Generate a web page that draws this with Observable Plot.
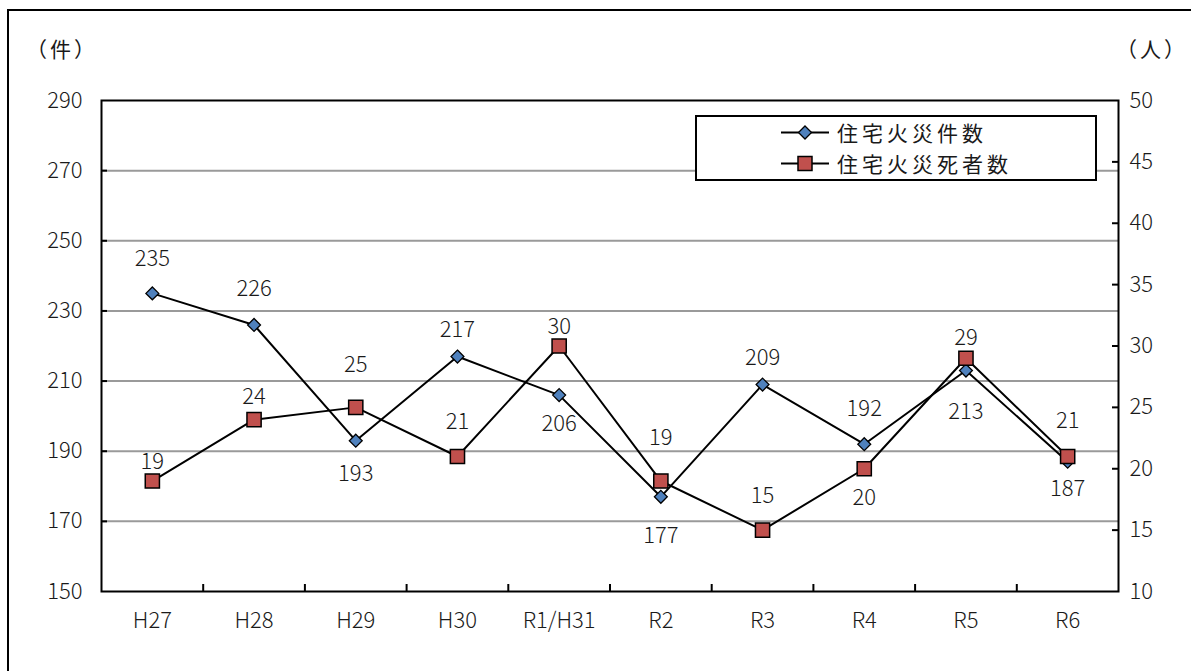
<!DOCTYPE html>
<html><head><meta charset="utf-8">
<script src="https://cdn.jsdelivr.net/npm/d3@7"></script>
<script src="https://cdn.jsdelivr.net/npm/@observablehq/plot@0.6"></script>
<style>
body{margin:0;background:#fff;}
#wrap{position:relative;width:1191px;height:671px;overflow:hidden;font-family:"Noto Sans CJK JP",sans-serif;color:#1a1a1a;}
#border{position:absolute;left:7px;top:9px;width:1300px;height:800px;border-top:2px solid #000;border-left:2px solid #000;}
#chart{position:absolute;left:0;top:0;}
.unit{position:absolute;top:36px;font-size:21px;line-height:24px;letter-spacing:3px;white-space:nowrap;}
#legend{position:absolute;left:695px;top:115px;width:398px;height:62px;border:2px solid #000;background:#fff;box-sizing:content-box;}
.row{position:relative;height:31px;white-space:nowrap;}
.row svg{position:absolute;left:84px;top:0;}
.row span{position:absolute;left:140px;top:0;display:inline-block;height:31px;line-height:31px;font-size:21px;letter-spacing:4px;}
</style></head>
<body>
<div id="wrap">
  <div id="border"></div>
  <div id="chart"></div>
  <div class="unit" style="left:26px">（件）</div>
  <div class="unit" style="left:1116px">（人）</div>
  <div id="legend"></div>
</div>
<script>
const years = ["H27","H28","H29","H30","R1/H31","R2","R3","R4","R5","R6"];
const fireCounts = [235,226,193,217,206,177,209,192,213,187];
const fireDeaths = [19,24,25,21,30,19,15,20,29,21];
const leftTicks = [150,170,190,210,230,250,270,290];
const rightTicks = [10,15,20,25,30,35,40,45,50];
const seriesNames = ["住宅火災件数","住宅火災死者数"];

const countColor = "#4F81BD", deathColor = "#C0504D";
const W = 1191, H = 671, mL = 101, mR = 73, mT = 100, mB = 80;
const plotW = W - mL - mR, plotH = H - mT - mB;
// secondary axis (人) 10..50 mapped onto primary (件) 150..290
const toLeft = v => 150 + (v - 10) * (140 / 40);
const toRight = v => Math.round(10 + (v - 150) * (40 / 140));

const data = years.map((y, i) => ({i, year: y, count: fireCounts[i], death: fireDeaths[i]}));

// label offsets (px) – manual placement as in the original
const countDy = [-34,-36,33,-27,29,39,-27,-35,41,27];
const deathDy = [-19,-23,-42,-35,-19,-43,-34,29,-20,-36];

const font = '"Noto Sans CJK JP", sans-serif';
const textCol = "#1a1a1a";

const marks = [
  Plot.ruleY(leftTicks.slice(1, -1), {stroke: "#9a9a9a", strokeWidth: 2}),
  Plot.frame({stroke: "#000", strokeWidth: 2}),
  Plot.tickY(leftTicks.slice(1, -1), {y: d => d, stroke: "#000", strokeWidth: 2, insetRight: plotW - 6}),
  Plot.tickY(rightTicks.slice(1, -1).map(toLeft), {y: d => d, stroke: "#000", strokeWidth: 2, insetLeft: plotW - 6}),
  Plot.tickX(d3.range(1, years.length).map(k => k - 0.5), {x: d => d, stroke: "#000", strokeWidth: 2, insetTop: plotH - 7}),
  Plot.axisY({ticks: leftTicks, tickSize: 0, tickPadding: 19, label: null, fill: textCol}),
  Plot.axisY({anchor: "right", ticks: rightTicks.map(toLeft), tickFormat: toRight, tickSize: 0, tickPadding: 11, label: null, fill: textCol}),
  Plot.axisX({ticks: d3.range(years.length), tickFormat: i => years[i], tickSize: 0, tickPadding: 21, label: null, fill: textCol}),
  Plot.lineY(data, {x: "i", y: "count", stroke: "#000", strokeWidth: 2}),
  Plot.lineY(data, {x: "i", y: d => toLeft(d.death), stroke: "#000", strokeWidth: 2}),
  Plot.dot(data, {x: "i", y: "count", symbol: "diamond2", r: 5.8, fill: countColor, stroke: "#000", strokeWidth: 1.3}),
  Plot.dot(data, {x: "i", y: d => toLeft(d.death), symbol: "square", r: 8, fill: deathColor, stroke: "#000", strokeWidth: 1.5}),
  ...data.map((d, k) => Plot.text([d], {x: "i", y: "count", text: e => String(e.count), dy: countDy[k], fill: textCol})),
  ...data.map((d, k) => Plot.text([d], {x: "i", y: e => toLeft(e.death), text: e => String(e.death), dy: deathDy[k], fill: textCol}))
];

const chart = Plot.plot({
  width: W, height: H,
  marginLeft: mL, marginRight: mR, marginTop: mT, marginBottom: mB,
  style: {fontFamily: font, fontSize: "22px", fontWeight: 300, background: "transparent", color: textCol, overflow: "visible"},
  x: {type: "linear", domain: [-0.5, years.length - 0.5]},
  y: {domain: [150, 290]},
  marks
});
document.getElementById("chart").appendChild(chart);

// legend
const legend = document.getElementById("legend");
seriesNames.forEach((name, k) => {
  const row = document.createElement("div");
  row.className = "row";
  const sym = k === 0
    ? `<path d="M24,9 L30.5,15.5 L24,22 L17.5,15.5Z" fill="${countColor}" stroke="#000" stroke-width="1.3"/>`
    : `<rect x="17" y="8.5" width="14" height="14" fill="${deathColor}" stroke="#000" stroke-width="1.5"/>`;
  row.innerHTML = `<svg width="48" height="31"><line x1="0" y1="15.5" x2="48" y2="15.5" stroke="#000" stroke-width="2"/>${sym}</svg><span>${name}</span>`;
  legend.appendChild(row);
});
</script>
</body></html>
